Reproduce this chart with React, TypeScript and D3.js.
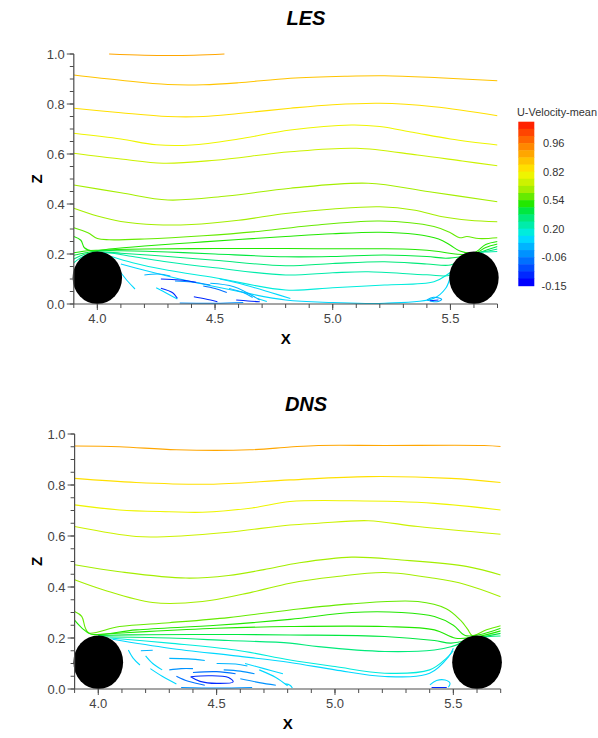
import React from 'react';
import * as d3 from 'd3';

type Pt = [number, number];
type Contour = { level: number; pts: Pt[] };

// ---------- data ----------
const X_DOMAIN: [number, number] = [3.9, 5.7];
const X_TICKS = [4.0, 4.5, 5.0, 5.5];
const Z_TICKS = [0, 0.2, 0.4, 0.6, 0.8, 1.0];
const CYLINDER_X = [4.0, 5.6];
const CYLINDER_ZC = 0.105;
const CYLINDER_R = 0.105;

const LEGEND_TITLE = 'U-Velocity-mean';
const LEGEND_LABELS = ['0.96', '0.82', '0.54', '0.20', '-0.06', '-0.15'];
// colour bands of the legend, top (highest) to bottom (lowest)
const LEGEND_COLORS = [
  '#ff2200', '#ff4400', '#ff6600', '#ff8800', '#ffa600', '#ffc400', '#ffe000',
  '#eef500', '#ccf200', '#a4ee00', '#66ea00', '#22e800', '#00e840', '#00ea7a',
  '#00ecaa', '#00ecdc', '#00d8ff', '#00b4ff', '#0092ff', '#0070ff', '#004cff',
  '#0028ff', '#0000ff',
];

const LES_CONTOURS: Contour[] = [
  { level: 4, pts: [[4.05, 1.0], [4.2, 0.995], [4.41, 0.995], [4.54, 1.0]] },
  { level: 5, pts: [[3.9, 0.916], [4.1, 0.895], [4.3, 0.878], [4.45, 0.877], [4.6, 0.885], [4.82, 0.903], [5.05, 0.911], [5.22, 0.913], [5.45, 0.905], [5.7, 0.893]] },
  { level: 6, pts: [[3.9, 0.783], [4.1, 0.765], [4.3, 0.75], [4.45, 0.75], [4.6, 0.762], [4.82, 0.783], [5.0, 0.797], [5.2, 0.803], [5.43, 0.789], [5.7, 0.753]] },
  { level: 7, pts: [[3.9, 0.683], [4.1, 0.66], [4.25, 0.637], [4.4, 0.636], [4.6, 0.66], [4.82, 0.696], [5.08, 0.716], [5.2, 0.71], [5.34, 0.687], [5.5, 0.66], [5.7, 0.636]] },
  { level: 8, pts: [[3.9, 0.603], [4.1, 0.58], [4.28, 0.563], [4.5, 0.575], [4.82, 0.609], [5.1, 0.623], [5.36, 0.596], [5.55, 0.572], [5.7, 0.553]] },
  { level: 9, pts: [[3.9, 0.476], [4.1, 0.445], [4.3, 0.416], [4.55, 0.432], [4.82, 0.463], [5.15, 0.483], [5.41, 0.449], [5.7, 0.409]] },
  { level: 9, pts: [[3.9, 0.383], [4.0, 0.352], [4.1, 0.33], [4.25, 0.317], [4.4, 0.318], [4.6, 0.335], [4.8, 0.362], [5.0, 0.38], [5.2, 0.389], [5.35, 0.375], [5.46, 0.35], [5.58, 0.335], [5.7, 0.329]] },
  { level: 10, pts: [[3.9, 0.305], [3.96, 0.285], [4.0, 0.262], [4.05, 0.257], [4.2, 0.26], [4.45, 0.273], [4.7, 0.292], [4.9, 0.313], [5.2, 0.332], [5.43, 0.31], [5.5, 0.285], [5.54, 0.265], [5.57, 0.27], [5.62, 0.262], [5.7, 0.265]] },
  { level: 11, pts: [[3.9, 0.27], [3.93, 0.255], [3.945, 0.225], [3.98, 0.212], [4.05, 0.22], [4.2, 0.232], [4.4, 0.245], [4.6, 0.258], [4.8, 0.27], [5.0, 0.281], [5.2, 0.287], [5.35, 0.279], [5.45, 0.26], [5.5, 0.235], [5.54, 0.212], [5.6, 0.205], [5.65, 0.238], [5.7, 0.25]] },
  { level: 11, pts: [[3.9, 0.205], [3.95, 0.212], [4.0, 0.215], [4.2, 0.22], [4.5, 0.222], [4.8, 0.222], [5.0, 0.221], [5.2, 0.221], [5.35, 0.218], [5.45, 0.21], [5.52, 0.2], [5.6, 0.2], [5.65, 0.226], [5.7, 0.24]] },
  { level: 12, pts: [[3.9, 0.195], [3.95, 0.205], [4.0, 0.212], [4.1, 0.213], [4.3, 0.208], [4.5, 0.2], [4.8, 0.189], [5.0, 0.19], [5.22, 0.196], [5.4, 0.19], [5.48, 0.183], [5.55, 0.19], [5.62, 0.205], [5.66, 0.218], [5.7, 0.23]] },
  { level: 13, pts: [[3.9, 0.18], [3.95, 0.2], [4.01, 0.208], [4.1, 0.203], [4.3, 0.19], [4.5, 0.175], [4.8, 0.153], [5.0, 0.162], [5.22, 0.169], [5.4, 0.16], [5.5, 0.156], [5.56, 0.18], [5.62, 0.205], [5.66, 0.212], [5.7, 0.22]] },
  { level: 14, pts: [[3.9, 0.165], [3.94, 0.19], [4.03, 0.205], [4.15, 0.19], [4.3, 0.168], [4.5, 0.145], [4.8, 0.116], [5.0, 0.125], [5.15, 0.129], [5.4, 0.117], [5.5, 0.116], [5.55, 0.16], [5.62, 0.205], [5.66, 0.208], [5.7, 0.21]] },
  { level: 15, pts: [[4.06, 0.19], [4.15, 0.165], [4.3, 0.135], [4.5, 0.105], [4.8, 0.056], [5.0, 0.065], [5.22, 0.076], [5.43, 0.089], [5.49, 0.12], [5.55, 0.16]] },
  { level: 16, pts: [[4.1, 0.16], [4.2, 0.135], [4.35, 0.1], [4.55, 0.06], [4.8, 0.016], [5.0, 0.006], [5.22, 0.003], [5.43, 0.023], [5.48, 0.063], [5.5, 0.11]] },
  // recirculation fragments
  { level: 16, pts: [[4.1, 0.125], [4.13, 0.09], [4.16, 0.06]] },
  { level: 16, pts: [[4.25, 0.065], [4.3, 0.04], [4.34, 0.02]] },
  { level: 16, pts: [[4.52, 0.1], [4.62, 0.078], [4.74, 0.045], [4.82, 0.022]] },
  { level: 16, pts: [[4.68, 0.022], [4.72, 0.01]] },
  { level: 17, pts: [[4.2, 0.116], [4.26, 0.12], [4.31, 0.112]] },
  { level: 17, pts: [[4.56, 0.062], [4.62, 0.046], [4.66, 0.026]] },
  { level: 17, pts: [[4.48, 0.083], [4.58, 0.069], [4.69, 0.016]] },
  { level: 18, pts: [[4.33, 0.092], [4.4, 0.088], [4.48, 0.076]] },
  { level: 18, pts: [[4.35, 0.004], [4.5, 0.003], [4.62, 0.006]] },
  { level: 21, pts: [[4.27, 0.1], [4.35, 0.096], [4.42, 0.087]] },
  { level: 21, pts: [[4.27, 0.063], [4.32, 0.045], [4.34, 0.023]] },
  { level: 21, pts: [[4.41, 0.029], [4.46, 0.02], [4.51, 0.009]] },
  { level: 21, pts: [[4.59, 0.016], [4.64, 0.012], [4.69, 0.009]] },
  { level: 19, pts: [[4.45, 0.072], [4.5, 0.062], [4.55, 0.046]] },
  { level: 17, pts: [[5.4, 0.016], [5.428, 0.027], [5.463, 0.019], [5.442, 0.009], [5.4, 0.016]] },
  { level: 21, pts: [[5.413, 0.013], [5.449, 0.016]] },
];

const DNS_CONTOURS: Contour[] = [
  { level: 4, pts: [[3.9, 0.953], [4.09, 0.95], [4.33, 0.938], [4.64, 0.938], [4.81, 0.949], [4.93, 0.955], [5.21, 0.955], [5.63, 0.955], [5.7, 0.951]] },
  { level: 6, pts: [[3.9, 0.826], [4.16, 0.81], [4.47, 0.803], [4.81, 0.82], [5.14, 0.833], [5.49, 0.826], [5.7, 0.81]] },
  { level: 7, pts: [[3.9, 0.722], [4.09, 0.702], [4.3, 0.695], [4.44, 0.693], [4.65, 0.71], [4.81, 0.735], [5.07, 0.738], [5.42, 0.728], [5.7, 0.702]] },
  { level: 8, pts: [[3.9, 0.637], [4.16, 0.598], [4.3, 0.598], [4.55, 0.615], [4.81, 0.643], [4.93, 0.65], [5.14, 0.66], [5.35, 0.637], [5.7, 0.607]] },
  { level: 9, pts: [[3.9, 0.487], [4.09, 0.46], [4.37, 0.435], [4.55, 0.445], [4.7, 0.468], [4.85, 0.495], [5.07, 0.517], [5.28, 0.506], [5.56, 0.48], [5.7, 0.447]] },
  { level: 9, pts: [[3.9, 0.428], [4.02, 0.389], [4.23, 0.339], [4.44, 0.343], [4.65, 0.38], [4.81, 0.415], [5.0, 0.44], [5.21, 0.457], [5.42, 0.434], [5.55, 0.41], [5.7, 0.362]] },
  { level: 10, pts: [[3.9, 0.304], [3.93, 0.285], [3.945, 0.24], [3.96, 0.22], [4.09, 0.245], [4.3, 0.26], [4.55, 0.28], [4.81, 0.31], [5.07, 0.334], [5.35, 0.343], [5.47, 0.315], [5.53, 0.27], [5.56, 0.235], [5.58, 0.21], [5.64, 0.232], [5.7, 0.248]] },
  { level: 11, pts: [[3.9, 0.27], [3.93, 0.24], [3.97, 0.215], [4.16, 0.232], [4.5, 0.25], [4.81, 0.273], [5.07, 0.3], [5.28, 0.3], [5.42, 0.284], [5.5, 0.25], [5.55, 0.21], [5.62, 0.215], [5.7, 0.238]] },
  { level: 11, pts: [[3.98, 0.213], [4.2, 0.225], [4.5, 0.238], [4.81, 0.245], [5.21, 0.245], [5.42, 0.232], [5.51, 0.199], [5.6, 0.205], [5.7, 0.228]] },
  { level: 12, pts: [[4.0, 0.21], [4.2, 0.213], [4.5, 0.214], [4.81, 0.212], [5.21, 0.206], [5.42, 0.19], [5.49, 0.18], [5.6, 0.2], [5.7, 0.218]] },
  { level: 13, pts: [[4.02, 0.205], [4.3, 0.2], [4.55, 0.19], [4.81, 0.18], [4.93, 0.166], [5.21, 0.147], [5.42, 0.153], [5.49, 0.166], [5.6, 0.2], [5.7, 0.208]] },
  { level: 15, pts: [[4.05, 0.2], [4.3, 0.18], [4.58, 0.153], [4.81, 0.114], [5.0, 0.088], [5.21, 0.062], [5.4, 0.075], [5.47, 0.12], [5.5, 0.15]] },
  { level: 16, pts: [[4.06, 0.195], [4.3, 0.16], [4.58, 0.13], [4.81, 0.104], [5.0, 0.075], [5.21, 0.049], [5.4, 0.062], [5.48, 0.127], [5.5, 0.16]] },
  // recirculation fragments
  { level: 16, pts: [[4.127, 0.153], [4.148, 0.12], [4.176, 0.094]] },
  { level: 16, pts: [[4.2, 0.13], [4.23, 0.1], [4.27, 0.075]] },
  { level: 16, pts: [[4.22, 0.08], [4.27, 0.05], [4.33, 0.02]] },
  { level: 16, pts: [[4.62, 0.1], [4.7, 0.08], [4.78, 0.06]] },
  { level: 16, pts: [[4.68, 0.075], [4.75, 0.045], [4.8, 0.012]] },
  { level: 16, pts: [[4.79, 0.02], [4.81, 0.015], [4.82, 0.004]] },
  { level: 16, pts: [[5.401, 0.016], [5.429, 0.033], [5.465, 0.035], [5.486, 0.022], [5.479, 0.007]] },
  { level: 17, pts: [[4.18, 0.15], [4.23, 0.152]] },
  { level: 17, pts: [[4.3, 0.12], [4.38, 0.118], [4.45, 0.112]] },
  { level: 17, pts: [[4.5, 0.1], [4.58, 0.098], [4.63, 0.09]] },
  { level: 18, pts: [[4.3, 0.075], [4.35, 0.08], [4.4, 0.08]] },
  { level: 18, pts: [[4.53, 0.075], [4.6, 0.07], [4.66, 0.06]] },
  { level: 18, pts: [[4.6, 0.04], [4.68, 0.025], [4.75, 0.015]] },
  { level: 18, pts: [[4.35, 0.006], [4.5, 0.004], [4.65, 0.006]] },
  { level: 19, pts: [[4.33, 0.05], [4.38, 0.03], [4.45, 0.015]] },
  { level: 19, pts: [[4.4, 0.065], [4.5, 0.068], [4.58, 0.06]] },
  { level: 21, pts: [[4.39, 0.048], [4.43, 0.03], [4.5, 0.022], [4.57, 0.028], [4.55, 0.045], [4.47, 0.052], [4.39, 0.048]] },
  { level: 21, pts: [[5.408, 0.006], [5.472, 0.006]] },
];

// ---------- rendering ----------
const FONT = 'Arial, "Liberation Sans", sans-serif';
const AXIS = '#4d4d4d';

type PanelProps = {
  id: string;
  title: string;
  contours: Contour[];
  x0: number; x1: number; yTop: number; yBottom: number; titleY: number;
};

function Panel({ id, title, contours, x0, x1, yTop, yBottom, titleY }: PanelProps) {
  const xs = d3.scaleLinear().domain(X_DOMAIN).range([x0, x1]);
  const zs = d3.scaleLinear().domain([0, 1]).range([yBottom, yTop]);
  const line = d3.line<Pt>().x(d => xs(d[0])).y(d => zs(d[1])).curve(d3.curveCatmullRom.alpha(0.5));
  const xMinor = d3.range(39, 58).map(v => v / 10);
  const zMinor = d3.range(0, 21).map(v => v / 20);
  const rx = xs(X_DOMAIN[0] + CYLINDER_R) - xs(X_DOMAIN[0]);
  const ry = zs(0) - zs(CYLINDER_R);
  return (
    <g>
      <defs>
        <clipPath id={id}>
          <rect x={x0} y={yTop - 2} width={x1 - x0} height={yBottom - yTop + 2} />
        </clipPath>
      </defs>
      <text x={306} y={titleY} textAnchor="middle" fontFamily={FONT} fontSize={20} fontWeight="bold" fontStyle="italic">{title}</text>
      <g clipPath={`url(#${id})`}>
        {contours.map((c, i) => (
          <path key={i} d={line(c.pts) || ''} fill="none" stroke={LEGEND_COLORS[c.level]} strokeWidth={1.1} strokeLinejoin="round" />
        ))}
      </g>
      {CYLINDER_X.map((cx, i) => (
        <ellipse key={i} cx={xs(cx)} cy={zs(CYLINDER_ZC)} rx={rx} ry={ry} fill="#000" />
      ))}
      {/* y axis */}
      <line x1={x0} x2={x0} y1={zs(1)} y2={zs(0)} stroke={AXIS} strokeWidth={1.2} />
      {zMinor.map((v, i) => (
        <line key={i} x1={x0 - 4} x2={x0} y1={zs(v)} y2={zs(v)} stroke={AXIS} strokeWidth={1} />
      ))}
      {Z_TICKS.map((v, i) => (
        <g key={i}>
          <line x1={x0 - 7} x2={x0} y1={zs(v)} y2={zs(v)} stroke={AXIS} strokeWidth={1} />
          <text x={x0 - 9} y={zs(v) + 4.5} textAnchor="end" fontFamily={FONT} fontSize={13} fill="#444">{v.toFixed(1)}</text>
        </g>
      ))}
      {/* x axis */}
      <line x1={x0} x2={x1} y1={yBottom} y2={yBottom} stroke={AXIS} strokeWidth={1.2} />
      {xMinor.map((v, i) => (
        <line key={i} x1={xs(v)} x2={xs(v)} y1={yBottom} y2={yBottom + 4} stroke={AXIS} strokeWidth={1} />
      ))}
      {X_TICKS.map((v, i) => (
        <g key={i}>
          <line x1={xs(v)} x2={xs(v)} y1={yBottom} y2={yBottom + 6} stroke={AXIS} strokeWidth={1} />
          <text x={xs(v)} y={yBottom + 18.5} textAnchor="middle" fontFamily={FONT} fontSize={13} fill="#444">{v.toFixed(1)}</text>
        </g>
      ))}
      <text x={(x0 + x1) / 2} y={yBottom + 40} textAnchor="middle" fontFamily={FONT} fontSize={15} fontWeight="bold">X</text>
      <text transform={`translate(42,${(zs(0) + zs(1)) / 2}) rotate(-90)`} textAnchor="middle" fontFamily={FONT} fontSize={15} fontWeight="bold">Z</text>
    </g>
  );
}

function Legend() {
  const top = 121.7, bottom = 285.7, left = 518.3, width = 16;
  const band = d3.scaleBand<number>().domain(d3.range(LEGEND_COLORS.length)).range([top, bottom]);
  const step = band.step();
  return (
    <g>
      <text x={517} y={116} fontFamily={FONT} fontSize={11} fill="#333" textLength={80} lengthAdjust="spacingAndGlyphs">{LEGEND_TITLE}</text>
      {LEGEND_COLORS.map((c, i) => (
        <rect key={i} x={left} y={band(i)!} width={width} height={step + 0.5} fill={c} />
      ))}
      {LEGEND_LABELS.map((l, i) => (
        <text key={i} x={l.startsWith('-') ? 541.5 : 543} y={top + (3 + 4 * i) * step + 4} fontFamily={FONT} fontSize={11} fill="#333">{l}</text>
      ))}
    </g>
  );
}

export default function App() {
  return (
    <svg width={598} height={738} style={{ position: 'absolute', left: 0, top: 0, background: '#fff' }}>
      <rect x={0} y={0} width={598} height={738} fill="#fff" />
      <Panel id="clipLES" title="LES" contours={LES_CONTOURS} x0={73.8} x1={497.5} yTop={54} yBottom={304} titleY={25} />
      <Panel id="clipDNS" title="DNS" contours={DNS_CONTOURS} x0={74.6} x1={500.7} yTop={434} yBottom={689} titleY={411} />
      <Legend />
    </svg>
  );
}
